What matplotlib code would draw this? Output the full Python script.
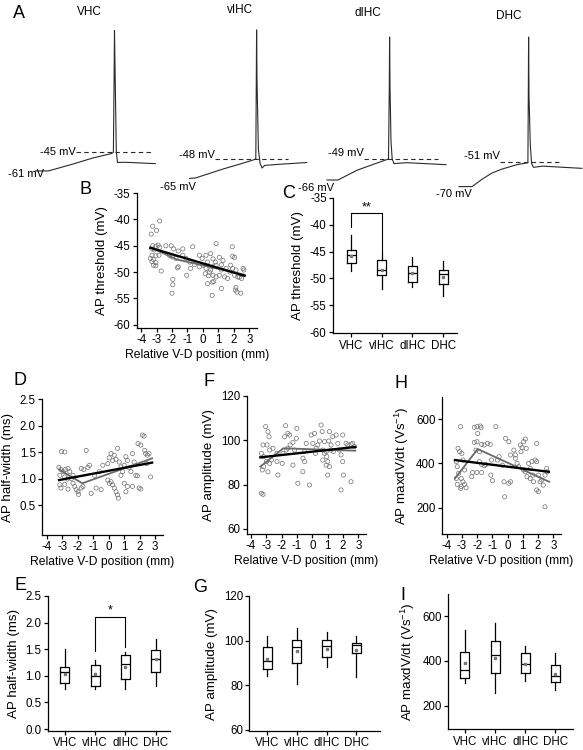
import numpy as np
import matplotlib.pyplot as plt

plt.rcParams['font.family'] = ['Liberation Sans', 'DejaVu Sans']
plt.rcParams['axes.unicode_minus'] = False
plt.rcParams['mathtext.fontset'] = 'custom'
plt.rcParams['mathtext.rm'] = 'Liberation Sans'

FW, FH = 583, 750
groups = ['VHC', 'vIHC', 'dIHC', 'DHC']

# ---- A: example traces (time in ms, membrane potential in mV) ----
vhc_t = [0, 13, 39, 57.6, 76.2, 78.1, 78.9, 79.2, 79.7, 81.0, 82.2, 90, 120]
vhc_v = [-61, -61, -54.7, -49.8, -46, -45, 30, 60, 30, -44, -53.7, -53.5, -54.7]
vihc_t = [0, 6, 33.4, 52, 64, 66.2, 66.7, 67.0, 67.4, 68.8, 70.5, 72.5, 75.1, 90, 117]
vihc_v = [-65, -64.6, -56.9, -52.2, -49, -48, 20, 63, 20, -40, -52, -56, -53.8, -52.8, -51.3]
dihc_t = [0, 11, 30, 48.5, 61.5, 62.3, 62.6, 63.0, 64.0, 65.2, 67, 80, 119]
dihc_v = [-66, -66, -58.1, -52.7, -49, 10, 49.8, 10, -35, -49, -52.7, -52, -53.6]
dhc_t = [0, 13, 18, 24.3, 33, 42.9, 57.7, 68.9, 69.3, 69.6, 70.0, 71.3, 72.6, 74.5, 83.7, 122.8]
dhc_v = [-70, -70, -67.2, -63.7, -59.5, -56.5, -53.1, -51.6, 0, 45.5, 0, -38, -52.2, -55.1, -54.2, -55.9]
thresholds = [-45, -48, -49, -51]
rests = [-61, -65, -66, -70]

# ---- B: AP threshold vs position ----
thr_x = [-2.8, -3.25, -3.0, -3.35, -3.25, -3.05, -2.9, -2.8, -3.3, -3.15, -2.4, -2.05, -1.9, -1.6, -1.3, -0.66,
         -3.3, -3.05, -2.85, -3.4, -3.2, -3.05, -3.2, -3.05, -3.3, -2.7, -2.17, -2.0, -1.75, -1.6, -1.65,
         -1.3, -1.1, -0.85, -0.55, -0.8, -1.05, -1.95, -1.95, -2.0, -0.23, -0.05, 0.2, 0.3, 0.0, -0.23, 0.2,
         0.42, 0.15, 0.35, 0.85, 0.5, 0.65, 0.8, 0.85, 0.63, 0.5, 0.65, 0.85, 0.6, 0.7, 0.3, 0.6, 1.06, 1.3,
         1.2, 1.5, 1.2, 1.06, 1.4, 1.6, 1.2, 1.9, 1.92, 2.05, 1.8, 1.92, 2.14, 1.75, 2.05, 2.25, 2.35, 2.14,
         2.2, 2.45, 2.1, 2.6, 2.65, 2.5]
thr_y = [-40.3, -41.3, -42.1, -42.8, -45.0, -45.1, -44.9, -45.3, -45.6, -45.8, -45.0, -45.0, -45.6, -46.0, -45.6, -45.2,
         -46.8, -46.9, -46.8, -47.4, -47.6, -48.2, -48.7, -48.8, -48.0, -49.8, -46.8, -47.1, -47.4, -49.0, -49.2,
         -46.8, -47.4, -48.1, -48.6, -49.3, -50.6, -51.4, -52.4, -54.0, -46.8, -47.4, -46.8, -48.1, -48.7, -49.0, -49.3,
         -50.0, -50.3, -50.7, -44.6, -46.5, -47.5, -48.1, -48.7, -49.0, -49.6, -50.6, -50.9, -51.9, -51.8, -52.2, -54.4,
         -47.2, -47.8, -48.6, -49.3, -49.6, -50.6, -50.9, -51.2, -53.1, -45.2, -47.0, -47.2, -48.7, -49.3, -49.6,
         -50.0, -50.6, -50.9, -51.0, -52.9, -53.8, -54.0, -53.4, -49.3, -49.6, -51.2]
thr_fit_x, thr_fit_y = [-3.4, 2.7], [-45.4, -50.7]
thr_seg_x, thr_seg_y = [-3.4, -1.7, 2.7], [-45.3, -47.6, -50.5]

# ---- D: AP half-width vs position ----
hw_x = [-3.04, -2.83, -3.21, -3.08, -2.94, -2.79, -2.62, -2.51, -3.15, -2.83, -2.66, -2.30, -2.40, -3.15, -3.08,
        -2.83, -2.62, -2.30, -2.19, -2.09, -1.98, -1.77, -1.66, -1.94, -1.77, -1.60, -1.34, -1.45, -1.24, -1.13,
        -0.81, -0.49, -0.91, -0.60, -0.38, -0.06, 0.04, 0.15, 0.26, 0.36, 0.47, 0.57, 0.68, 0.79, -0.06, 0.04,
        0.15, 0.26, 0.36, 0.47, 0.57, 0.62, 0.79, 0.89, 1.0, 1.11, 1.21, 1.32, 1.43, 1.0, 1.11, 1.21, 1.53, 1.53,
        1.64, 1.75, 1.85, 1.96, 2.07, 1.89, 2.07, 2.17, 2.28, 2.38, 2.49, 2.6, 2.70, 2.32, 2.45]
hw_y = [1.51, 1.50, 1.21, 1.17, 1.13, 1.17, 1.19, 1.13, 1.06, 1.03, 0.99, 1.06, 1.0, 0.88, 0.82,
        0.89, 0.80, 0.91, 0.85, 0.79, 0.75, 0.82, 0.85, 0.70, 1.19, 1.17, 1.21, 1.53, 1.25, 0.72,
        0.82, 0.79, 1.06, 1.13, 1.25, 1.28, 1.39, 1.47, 1.34, 1.44, 1.36, 1.57, 1.31, 1.22, 0.97, 0.91,
        0.94, 0.88, 0.82, 0.75, 0.69, 0.63, 1.06, 1.13, 1.25, 1.41, 1.34, 1.21, 1.13, 0.91, 0.75, 0.85, 0.85, 1.47,
        1.31, 1.06, 1.05, 0.82, 0.80, 1.66, 1.63, 1.82, 1.80, 1.47, 1.44, 1.47, 1.03, 1.53, 1.28]
hw_fit_x, hw_fit_y = [-3.2, 2.8], [0.97, 1.30]
hw_seg_x, hw_seg_y = [-3.2, -1.7, 2.8], [1.17, 0.91, 1.38]

# ---- F: AP amplitude vs position ----
amp_x = [-3.05, -2.90, -2.83, -2.96, -3.22, -3.33, -3.18, -3.0, -3.18, -3.27, -2.90, -2.79, -2.68, -3.33, -3.22,
         -2.79, -2.57, -2.31, -2.31, -2.25, -1.97, -1.92, -1.81, -1.75, -1.60, -1.49, -1.60, -1.71, -1.45, -1.27,
         -1.27, -1.16, -1.05, -1.01, -0.95, -0.62, -0.62, -0.51, -0.19, -0.08, 0.03, 0.14, 0.25, 0.20, 0.35,
         0.46, 0.57, 0.64, 0.68, 0.79, 0.90, 0.94, 1.0, 1.07, 1.11, 1.22, 1.33, 1.37, 1.55, 1.66,
         1.76, 1.87, 1.98, 1.98, 2.02, 1.87, 2.20, 2.31, 2.52, 2.63, 2.52, 2.74, 0.68, 0.79, 0.90,
         1.0, 1.11, 1.22, -0.51, -0.40]
amp_y = [106.2, 103.9, 101.6, 97.9, 97.9, 94.1, 92.6, 90.4, 88.1, 86.6, 85.8, 89.6, 91.1, 76.1, 75.6,
         95.6, 96.4, 94.1, 90.4, 84.3, 89.6, 94.1, 101.6, 106.6, 103.1, 102.4, 96.4, 95.6, 97.9, 99.1,
         88.8, 95.6, 100.9, 105.4, 80.6, 91.9, 85.8, 90.4, 79.8, 102.4, 98.6, 103.1, 96.4, 94.1, 97.9,
         99.7, 106.9, 103.9, 95.6, 99.4, 88.8, 92.6, 84.3, 99.7, 103.9, 97.9, 101.6, 94.9, 102.4, 98.6,
         95.6, 93.4, 102.4, 90.4, 84.3, 77.6, 98.6, 97.9, 98.2, 98.6, 81.3, 97.1, 91.1, 94.1, 94.9,
         90.4, 88.1, 95.6, 94.9, 98.6]
amp_fit_x, amp_fit_y = [-3.4, 2.8], [92.3, 97.0]
amp_seg_x, amp_seg_y = [-3.4, -1.9, 2.8], [88.1, 96.4, 95.3]

# ---- H: AP maxdV/dt vs position ----
dvdt_x = [-3.08, -2.18, -2.01, -1.79, -1.74, -0.77, -1.96, -2.01, -2.18, -2.07, -1.85, -1.70, -1.53, -1.31, -1.14,
          -1.85, -1.70, -1.53, -1.42, -1.06, -1.10, -0.99, -1.70, -2.01, -2.29, -2.35, -2.82, -2.93, -3.0, -3.25,
          -3.14, -3.36, -3.30, -3.21, -3.36, -3.04, -2.93, -2.82, -3.04, -3.08, -3.30, -2.72,
          -0.67, -0.56, -0.34, -0.13, 0.08, 0.19, -0.24, -0.20, 0.08, 0.19,
          0.41, 0.51, 0.51, 0.62, 0.73, 0.84, 0.88, 0.95, 1.05, 1.16, 1.22, 1.05, 1.16, 1.27, 1.38, 1.48, 1.48,
          1.59, 1.66, 1.70, 1.81, 1.91, 1.91, 2.02, 2.13, 1.91, 2.02, 2.24, 2.45, 2.56, 2.60, 2.45, 2.34]
dvdt_y = [566, 563, 566, 569, 561, 566, 535, 498, 495, 460, 453, 486, 483, 490, 486,
          408, 395, 389, 395, 415, 347, 322, 359, 359, 359, 340, 370, 415, 445, 468,
          453, 408, 385, 355, 332, 332, 317, 305, 295, 287, 305, 290,
          415, 430, 392, 513, 498, 438, 317, 249, 310, 317,
          460, 438, 423, 400, 385, 483, 453, 471, 498, 510, 468, 370, 362, 340, 400, 377, 332,
          408, 347, 317, 415, 408, 490, 347, 317, 280, 272, 325, 347, 377, 362, 204, 302]
dvdt_fit_x, dvdt_fit_y = [-3.45, 2.7], [415, 362]
dvdt_seg_x, dvdt_seg_y = [-3.45, -1.96, 2.72], [332, 465, 317]

# ---- box plots: whisker low, Q1, median, Q3, whisker high, mean ----
thr_lo = [-48.6, -52.0, -51.6, -53.2]
thr_q1 = [-47.2, -49.4, -50.6, -51.0]
thr_med = [-45.6, -48.5, -48.9, -49.2]
thr_q3 = [-44.7, -46.6, -47.6, -48.4]
thr_hi = [-41.9, -45.0, -46.0, -46.7]
thr_mean = [-45.9, -48.4, -49.0, -49.8]

hw_lo = [0.75, 0.75, 0.75, 0.81]
hw_q1 = [0.86, 0.81, 0.95, 1.07]
hw_med = [1.07, 1.0, 1.23, 1.31]
hw_q3 = [1.17, 1.20, 1.39, 1.49]
hw_hi = [1.5, 1.30, 1.44, 1.69]
hw_mean = [1.04, 1.03, 1.16, 1.31]

amp_lo = [84.3, 80.6, 88.3, 83.9]
amp_q1 = [87.2, 89.8, 92.8, 94.5]
amp_med = [90.9, 97.0, 97.6, 98.0]
amp_q3 = [97.0, 100.4, 100.1, 98.9]
amp_hi = [102.1, 105.8, 103.7, 102.1]
amp_mean = [91.8, 95.3, 96.1, 95.8]

dvdt_lo = [300, 258, 310, 270]
dvdt_q1 = [325, 347, 344, 307]
dvdt_med = [359, 426, 384, 334]
dvdt_q3 = [441, 488, 435, 381]
dvdt_hi = [537, 567, 467, 436]
dvdt_mean = [392, 411, 388, 341]

fig = plt.figure(figsize=(FW / 100, FH / 100), dpi=100)


def px_axes(left, top, right, bottom):
    return fig.add_axes([left / FW, 1 - bottom / FH, (right - left) / FW, (bottom - top) / FH])


def px_text(x, y, s, **kw):
    fig.text(x / FW, 1 - y / FH, s, ha='center', va='center', **kw)


def style(ax):
    for s in ['top', 'right']:
        ax.spines[s].set_visible(False)
    for s in ['left', 'bottom']:
        ax.spines[s].set_linewidth(0.9)
    ax.tick_params(width=0.9, length=3, labelsize=8.3, pad=1.5)


def scatter_panel(ax, x, y, fx, fy, sx, sy, ylim, yticks, ylabel, fmt):
    ax.scatter(x, y, s=9, facecolors='none', edgecolors='#707070', linewidths=0.5, zorder=2)
    ax.plot(sx, sy, color='#6a6a6a', lw=1.3, zorder=3)
    ax.plot(fx, fy, color='black', lw=1.7, zorder=4)
    ax.set_xlim(-4.3, 3.5)
    ax.set_xticks(range(-4, 4))
    ax.set_ylim(ylim)
    ax.set_yticks(yticks)
    ax.set_yticklabels([fmt.format(v) for v in yticks])
    ax.set_xlabel('Relative V-D position (mm)', fontsize=8.7, labelpad=2)
    ax.set_ylabel(ylabel, fontsize=9.6, labelpad=4)
    style(ax)


def box_panel(ax, lo, q1, med, q3, hi, mean, ylim, yticks, ylabel, fmt, xlim):
    stats = [dict(whislo=lo[i], q1=q1[i], med=med[i], q3=q3[i], whishi=hi[i], mean=mean[i], fliers=[])
             for i in range(len(groups))]
    ax.bxp(stats, positions=range(len(groups)), widths=0.3, showmeans=True, showcaps=False,
           showfliers=False, boxprops=dict(lw=0.9), whiskerprops=dict(lw=0.9),
           medianprops=dict(color='black', lw=0.9),
           meanprops=dict(marker='s', markersize=2, markerfacecolor='#777777', markeredgecolor='#777777'))
    ax.set_xticks(range(len(groups)))
    ax.set_xticklabels(groups)
    ax.set_xlim(xlim)
    ax.set_ylim(ylim)
    ax.set_yticks(yticks)
    ax.set_yticklabels([fmt.format(v) for v in yticks])
    ax.set_ylabel(ylabel, fontsize=9.6, labelpad=4)
    style(ax)


def bracket(ax, x1, x2, top, lo1, lo2, label):
    ax.plot([x1, x1, x2, x2], [lo1, top, top, lo2], color='black', lw=0.8)
    ax.text((x1 + x2) / 2, top, label, ha='center', va='bottom', fontsize=9)


# ---- panel A ----
traces = [(vhc_t, vhc_v), (vihc_t, vihc_v), (dihc_t, dihc_v), (dhc_t, dhc_v)]
# start pixel, px per mV, pixel row of threshold
trace_pos = [(35.3, 1.16, 152.4), (189.6, 1.16, 158.7), (327, 1.235, 159), (459, 1.295, 162)]
dash_span = [(40.7, 117), (25.4, 98.4), (37, 111), (41, 103)]
thr_lab_y = [-44.4, -45.2, -44.5, -46.4]
rest_lab = [(-9.3, -63.6), (-12.1, -72), (-10.5, -72.2), (-5.5, -75.5)]
t_lo, t_hi, v_lo, v_hi = -20, 124, -80, 65
for i, (t, v) in enumerate(traces):
    x0, s, py = trace_pos[i]
    th = thresholds[i]
    ax = px_axes(x0 + t_lo, py - (v_hi - th) * s, x0 + t_hi, py + (th - v_lo) * s)
    ax.plot(t, v, color='#2a2a2a', lw=0.8)
    ax.plot(dash_span[i], [th, th], color='#2a2a2a', lw=0.8, ls=(0, (4, 3)))
    ax.text(dash_span[i][0] - 0.5, thr_lab_y[i], f'{th} mV', ha='right', va='center', fontsize=8)
    ax.text(rest_lab[i][0], rest_lab[i][1], f'{rests[i]} mV', ha='center', va='center', fontsize=8)
    ax.set_xlim(t_lo, t_hi)
    ax.set_ylim(v_lo, v_hi)
    ax.axis('off')

for name, (x, y) in zip(groups, [(89, 12), (240, 10.4), (368, 13), (509, 15.6)]):
    px_text(x, y, name, fontsize=8.5)

# ---- B ----
axB = px_axes(136.5, 193, 257, 328)
scatter_panel(axB, thr_x, thr_y, thr_fit_x, thr_fit_y, thr_seg_x, thr_seg_y,
              (-60.6, -35), list(range(-35, -61, -5)), 'AP threshold (mV)', '{:d}')

# ---- C ----
axC = px_axes(333, 197.7, 457, 333.4)
box_panel(axC, thr_lo, thr_q1, thr_med, thr_q3, thr_hi, thr_mean,
          (-60.2, -35), list(range(-35, -61, -5)), 'AP threshold (mV)', '{:d}', (-0.59, 3.45))
bracket(axC, 0, 1, -37.9, -40.4, -44.9, '**')

# ---- D ----
axD = px_axes(42, 399, 163, 535)
scatter_panel(axD, hw_x, hw_y, hw_fit_x, hw_fit_y, hw_seg_x, hw_seg_y,
              (-0.066, 2.5), [0.5, 1.0, 1.5, 2.0, 2.5], 'AP half-width (ms)', '{:.1f}')

# ---- F ----
axF = px_axes(246.5, 396, 366, 534)
scatter_panel(axF, amp_x, amp_y, amp_fit_x, amp_fit_y, amp_seg_x, amp_seg_y,
              (57.7, 120), [60, 80, 100, 120], 'AP amplitude (mV)', '{:d}')

# ---- H ----
axH = px_axes(442, 397, 561, 534)
scatter_panel(axH, dvdt_x, dvdt_y, dvdt_fit_x, dvdt_fit_y, dvdt_seg_x, dvdt_seg_y,
              (81, 700), [200, 400, 600], r'AP maxdV/dt (Vs$^{-1}$)', '{:d}')

# ---- E ----
axE = px_axes(47.7, 596, 170, 730.7)
box_panel(axE, hw_lo, hw_q1, hw_med, hw_q3, hw_hi, hw_mean,
          (-0.03, 2.5), [0.0, 0.5, 1.0, 1.5, 2.0, 2.5], 'AP half-width (ms)', '{:.1f}', (-0.57, 3.48))
bracket(axE, 1, 2, 2.11, 1.46, 1.55, '*')

# ---- G ----
axG = px_axes(249.3, 596, 380, 731)
box_panel(axG, amp_lo, amp_q1, amp_med, amp_q3, amp_hi, amp_mean,
          (59.5, 120), [60, 80, 100, 120], 'AP amplitude (mV)', '{:d}', (-0.6, 3.8))

# ---- I ----
axI = px_axes(448.3, 593.6, 573, 729.3)
box_panel(axI, dvdt_lo, dvdt_q1, dvdt_med, dvdt_q3, dvdt_hi, dvdt_mean,
          (95, 700), [200, 400, 600], r'AP maxdV/dt (Vs$^{-1}$)', '{:d}', (-0.55, 3.58))

# panel letters
for lab, (x, y) in {'A': (18.6, 13), 'B': (85.8, 189), 'C': (289, 194), 'D': (20, 380),
                    'F': (209, 381), 'H': (401, 383), 'E': (20, 586), 'G': (200, 587),
                    'I': (403, 595)}.items():
    px_text(x, y, lab, fontsize=13)

fig.savefig('out.png', dpi=100)
